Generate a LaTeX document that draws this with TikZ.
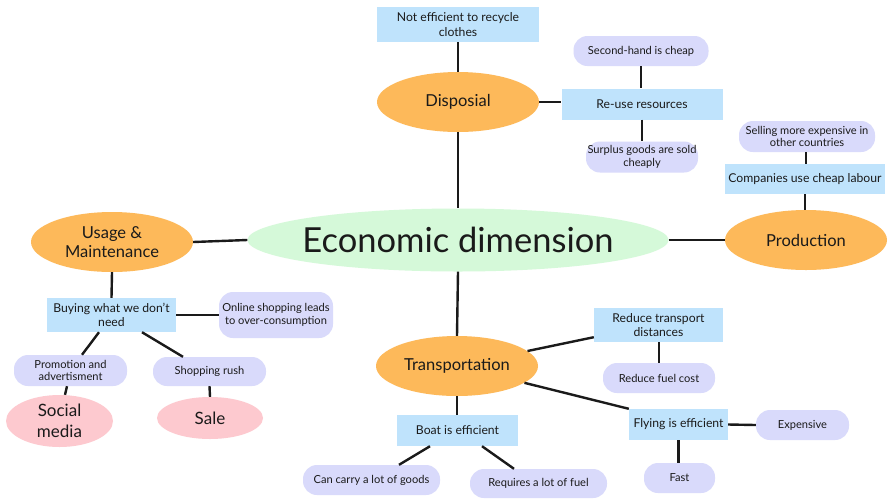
\documentclass[tikz,border=0pt]{standalone}
\usepackage{fontspec}
\setmainfont{Lato}
\usetikzlibrary{shapes.geometric,calc}
\definecolor{orng}{HTML}{FDB95A}
\definecolor{grn}{HTML}{D5F9D9}
\definecolor{blu}{HTML}{BFE3FC}
\definecolor{lav}{HTML}{D9DAFB}
\definecolor{pnk}{HTML}{FDC9CF}
\definecolor{ink}{HTML}{1A1A1A}
\begin{document}
\begin{tikzpicture}[x=1pt,y=-1pt,
  cat/.style={ellipse, fill=orng, inner xsep=0pt, inner ysep=-3pt, minimum width=162pt, minimum height=60pt, font=\fontsize{16.5}{19.5}\selectfont, align=center, text=ink},
  box/.style={rectangle, fill=blu, inner sep=0pt, font=\fontsize{12.2}{14.5}\selectfont, align=center, text=ink},
  pill/.style={rectangle, rounded corners=14pt, fill=lav, inner sep=0pt, font=\fontsize{11.1}{12.8}\selectfont, align=center, text=ink},
  ends/.style={ellipse, fill=pnk, inner xsep=0pt, inner ysep=-6pt, font=\fontsize{17}{21}\selectfont, align=center, text=ink},
  link/.style={line width=2.4pt, draw=ink}]
\useasboundingbox (0,0) rectangle (888,499);
\fill[white] (0,0) rectangle (888,499);

\node[ellipse, fill=grn, inner xsep=-12pt, inner ysep=0pt, minimum width=421pt, minimum height=63pt, font=\fontsize{34.5}{40}\selectfont, text=ink] (eco) at (458,240) {Economic dimension};

\node[cat] (disp) at (458,102) {Disposial};
\node[box, minimum width=162pt, minimum height=35pt] (notef) at (458,24.5) {Not efficient to recycle\\clothes};
\node[pill, minimum width=135pt, minimum height=30pt] (second) at (641,51) {Second-hand is cheap};
\node[box, minimum width=161pt, minimum height=31pt] (reuse) at (642,104) {Re-use resources};
\node[pill, minimum width=112pt, minimum height=31pt] (surplus) at (642,157) {Surplus goods are sold\\cheaply};

\node[pill, minimum width=136pt, minimum height=31pt] (selling) at (807,136.5) {Selling more expensive in\\other countries};
\node[box, minimum width=160pt, minimum height=30pt] (cheap) at (805,179) {Companies use cheap labour};
\node[cat] (prod) at (806,240) {Production};

\node[cat] (usage) at (112,242) {Usage \&\\Maintenance};
\node[box, minimum width=129pt, minimum height=34pt] (buy) at (111.5,315) {Buying what we don't\\need};
\node[pill, minimum width=114pt, minimum height=46pt] (online) at (276,315) {Online shopping leads\\to over-consumption};
\node[pill, minimum width=113pt, minimum height=31pt] (promo) at (70.5,370.5) {Promotion and\\advertisment};
\node[pill, minimum width=113pt, minimum height=29pt] (rush) at (209.5,371.5) {Shopping rush};
\node[ends, minimum width=107pt, minimum height=52pt] (social) at (59.5,421) {Social\\media};
\node[ends, minimum width=106pt, minimum height=42pt] (sale) at (210,418) {Sale};

\node[cat] (trans) at (457,366) {Transportation};
\node[box, minimum width=121pt, minimum height=31pt] (boat) at (457.5,430.5) {Boat is efficient};
\node[pill, minimum width=137pt, minimum height=30pt] (carry) at (371.5,480) {Can carry a lot of goods};
\node[pill, minimum width=137pt, minimum height=29pt] (fuel) at (538.5,483.5) {Requires a lot of fuel};
\node[box, minimum width=129pt, minimum height=34pt] (rtd) at (658.5,325) {Reduce transport\\distances};
\node[pill, minimum width=112pt, minimum height=30pt] (rfc) at (659,378) {Reduce fuel cost};
\node[box, minimum width=99pt, minimum height=31pt] (fly) at (678.5,424.5) {Flying is efficient};
\node[pill, minimum width=93pt, minimum height=30pt] (exp) at (802.5,425) {Expensive};
\node[pill, minimum width=71pt, minimum height=30pt] (fast) at (679.5,478) {Fast};

% connectors
\draw[link] (notef.south) -- (disp.north);
\draw[link] (disp.south) -- (eco.north);
\draw[link] (disp.east) -- (reuse.west |- disp.east);
\draw[link] (second.south) -- (second.south |- reuse.north);
\draw[link] (reuse.south) -- (reuse.south |- surplus.north);
\draw[link] ($(selling.south)+(-1,0)$) -- ($(cheap.north)+(1,0)$);
\draw[link] (cheap.south) -- (cheap.south |- prod.north);
\draw[link] (eco.east) -- (prod.west);
\draw[link] (usage.east) -- (eco.west);
\draw[link] (usage.south) -- (buy.north);
\draw[link] (buy.east) -- (online.west);
\draw[link] ($(buy.south)+(-12.5,0)$) -- ($(promo.north)+(11.5,0)$);
\draw[link] ($(buy.south)+(30.5,0)$) -- ($(rush.north)+(-26.5,0)$);
\draw[link] ($(promo.south)+(-3.5,0)$) -- ($(social.north)+(5.5,0)$);
\draw[link] (rush.south) -- (sale.north);
\draw[link] (eco.south) -- (trans.north);
\draw[link] (trans.south) -- (boat.north -| trans.south);
\draw[link] ($(boat.south)+(-27.5,0)$) -- ($(carry.north)+(27.5,0)$);
\draw[link] ($(boat.south)+(24.5,0)$) -- ($(fuel.north)+(-24.5,0)$);
\draw[link] (trans.12) -- ($(rtd.south west)+(0,-5)$);
\draw[link] (trans.-14) -- (fly.north west);
\draw[link] (rtd.south -| rfc.north) -- (rfc.north);
\draw[link] (fly.east) -- (exp.west);
\draw[link] (fly.south) -- (fly.south |- fast.north);
\end{tikzpicture}
\end{document}
